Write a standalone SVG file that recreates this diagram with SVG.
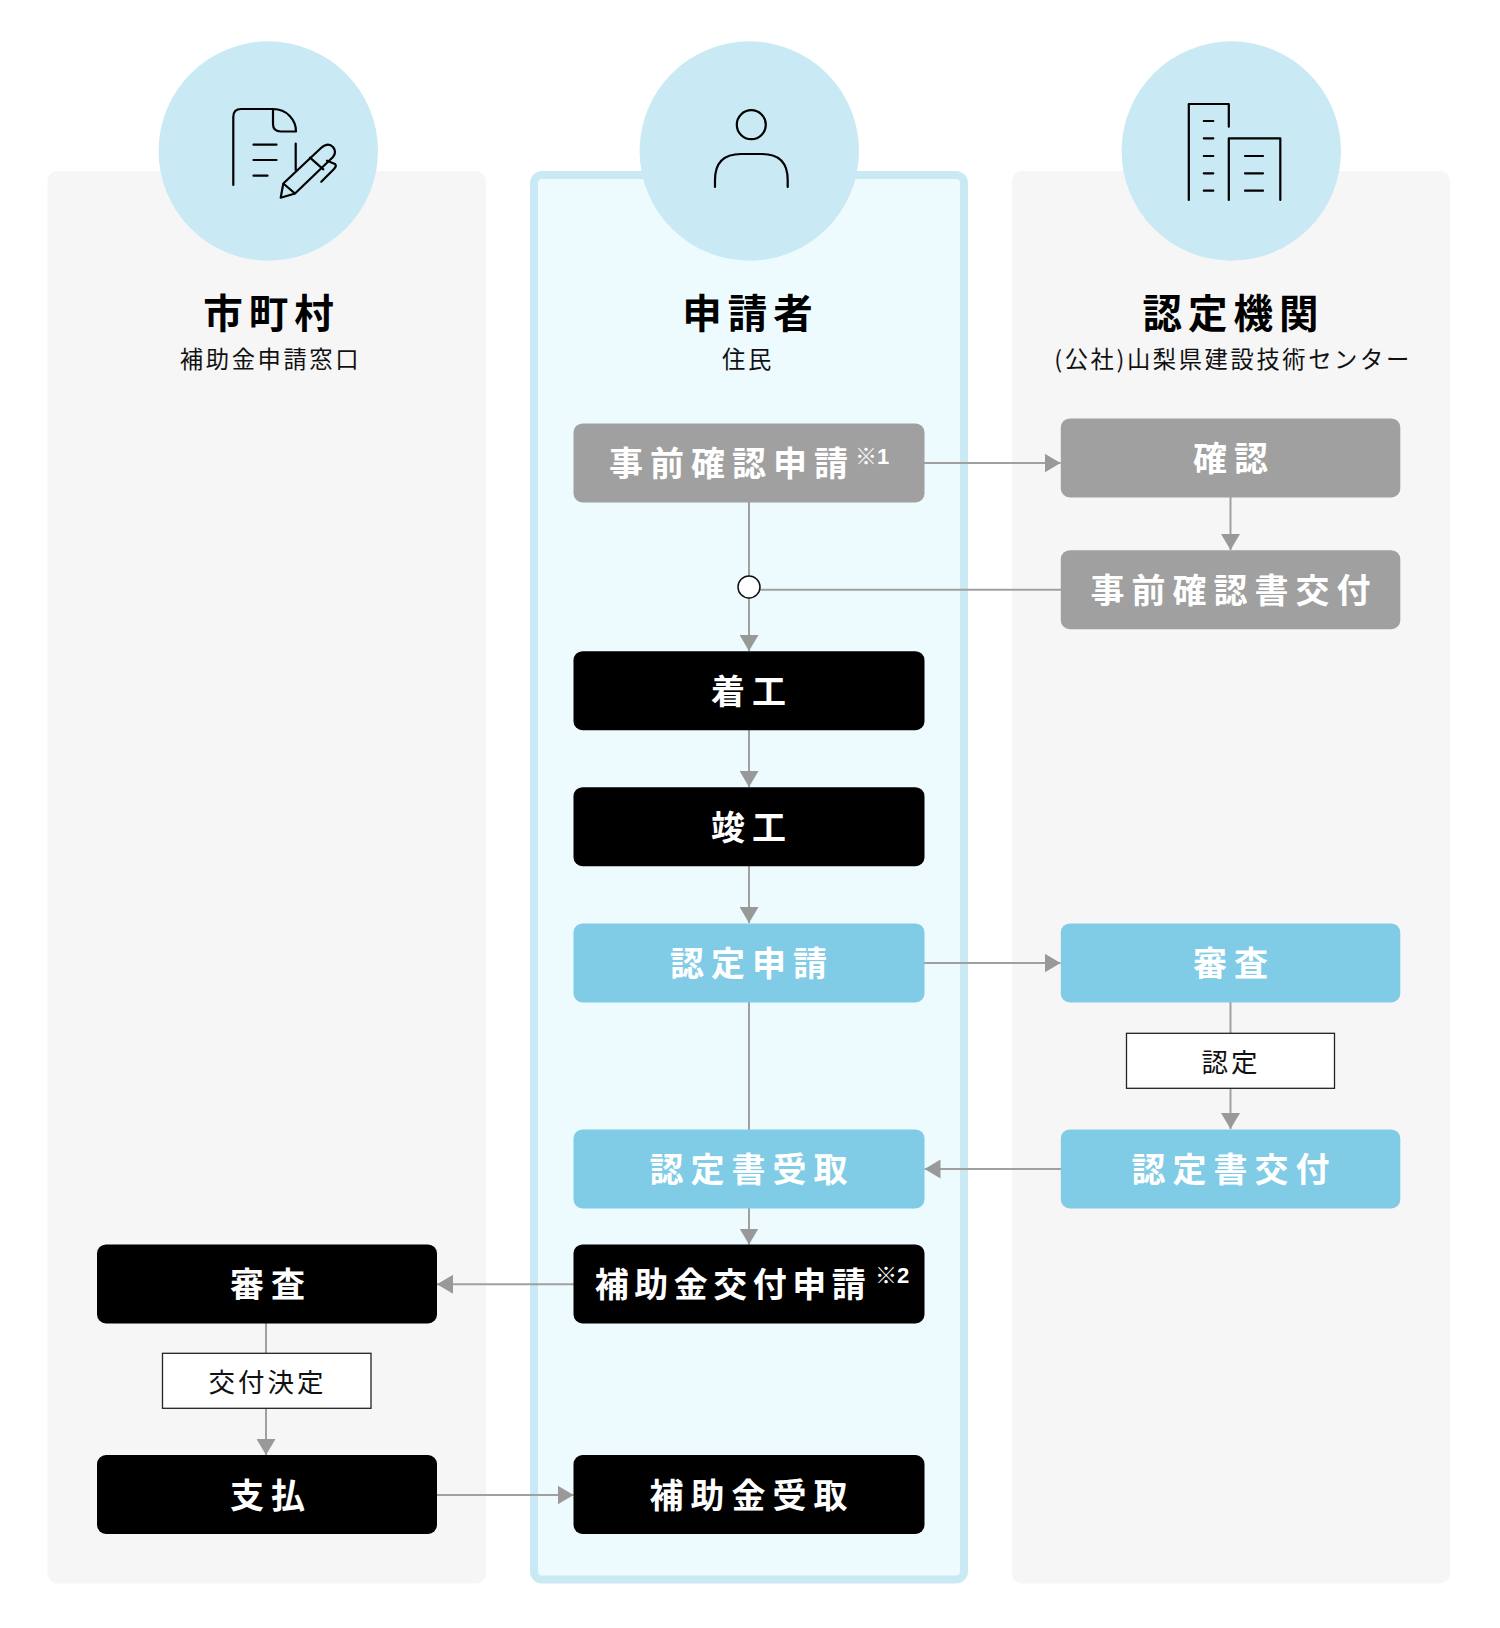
<svg xmlns="http://www.w3.org/2000/svg" width="1500" height="1628" viewBox="0 0 1500 1628">
<style>
text{font-family:"Noto Sans CJK JP","Noto Sans CJK SC",sans-serif}
.t{font-size:39.500px;font-weight:700;letter-spacing:6px;fill:#000;text-anchor:middle}
.s{font-size:23.300px;font-weight:400;letter-spacing:2.600px;fill:#111;text-anchor:middle}
.b{font-size:34px;font-weight:700;letter-spacing:7px;fill:#fff;text-anchor:middle}
.n{font-size:22px;font-weight:700;fill:#fff;font-family:"Liberation Sans","Noto Sans CJK JP",sans-serif}
.l{font-size:26.500px;font-weight:400;letter-spacing:3px;fill:#111;text-anchor:middle}
.gr{fill:#a0a0a0}.bl{fill:#80cbe5}.bk{fill:#000}
.c{fill:#c9eaf4}
.i{fill:none;stroke:#000;stroke-width:2.200;stroke-linecap:round;stroke-linejoin:round}
.ln{fill:none;stroke:#a0a0a0;stroke-width:2}
.ah{fill:#999}
.lb{fill:#fff;stroke:#222;stroke-width:1.300}
</style>
<defs>
<marker id="a" viewBox="0 0 16 19" markerWidth="16" markerHeight="19" markerUnits="userSpaceOnUse" refX="16" refY="9.500" orient="auto"><path class="ah" d="M0 0L16 9.500L0 19z"/></marker>
</defs>
<g id="lane-municipality">
<rect x="47.500" y="171" width="438.500" height="1412.500" rx="10" fill="#f6f6f6"/>
<circle class="c" cx="268.300" cy="151" r="109.700"/>
<path class="i" d="M233.300 185V117Q233.300 109 241 109H273C287 109 296 120 296 131.500H281Q273 131.500 273 124V109M253.500 144.700H276.500M253.500 160H276.500M253.500 175.700H267.500M295.700 143.500V170M280.700 197.700L283.300 183.500L321 148Q328 142 333 147Q337 152 333 157L295 193.500ZM283.300 183.500L295 193.500M310 157.700L323.300 169.300M327 160.700L335 164Q337 166 334 169L321.300 181.700"/>
<text class="t" x="271.500" y="328">市町村</text>
<text class="s" x="270.500" y="367.500">補助金申請窓口</text>
</g>
<g id="lane-applicant">
<rect x="534" y="175" width="430" height="1404.500" rx="8" fill="#edfbff" stroke="#c9eaf4" stroke-width="8"/>
<circle class="c" cx="749.300" cy="151" r="109.700"/>
<circle class="i" cx="751.300" cy="124.700" r="14.500"/>
<path class="i" d="M715 187V180Q715 154 741 154H762Q787.700 154 787.700 180V187"/>
<text class="t" x="750.500" y="328">申請者</text>
<text class="s" x="748" y="367.500">住民</text>
</g>
<g id="lane-agency">
<rect x="1012" y="171" width="438" height="1412.500" rx="10" fill="#f6f6f6"/>
<circle class="c" cx="1231.300" cy="151" r="109.700"/>
<path class="i" d="M1188.800 200V104H1228.800V126.700M1228.800 200V138.300H1280.300V200M1203.800 121H1213.300M1203.800 138.300H1213.300M1203.800 156H1213.300M1203.800 173.300H1213.300M1203.800 190.700H1213.300M1245 156H1263M1245 173.300H1263M1245 190.700H1263"/>
<text class="t" x="1233.500" y="328">認定機関</text>
<text class="s" x="1233" y="368">(公社)山梨県建設技術センター</text>
</g>
<g id="connectors">
<path class="ln" d="M924 463H1060.500" marker-end="url(#a)"/>
<path class="ln" d="M749 502V651" marker-end="url(#a)"/>
<path class="ln" d="M749 589.700H1061"/>
<path class="ln" d="M1230.500 497V550" marker-end="url(#a)"/>
<path class="ln" d="M749 730V787" marker-end="url(#a)"/>
<path class="ln" d="M749 866V923" marker-end="url(#a)"/>
<path class="ln" d="M924 963H1060.500" marker-end="url(#a)"/>
<path class="ln" d="M749 1002V1130"/>
<path class="ln" d="M1230.500 1002V1129" marker-end="url(#a)"/>
<path class="ln" d="M1061 1169H924.500" marker-end="url(#a)"/>
<path class="ln" d="M749 1208V1244.500" marker-end="url(#a)"/>
<path class="ln" d="M574 1284.300H437" marker-end="url(#a)"/>
<path class="ln" d="M266 1323V1455" marker-end="url(#a)"/>
<path class="ln" d="M437 1495H573.500" marker-end="url(#a)"/>
</g>
<g id="junction"><circle cx="749" cy="587" r="11" fill="#fff" stroke="#111" stroke-width="1.500"/></g>
<g id="n-pre-apply"><rect class="gr" x="573.500" y="423.400" width="351" height="79" rx="9"/><text class="b" x="732" y="476">事前確認申請</text><text class="n" x="855" y="464">※1</text></g>
<g id="n-confirm"><rect class="gr" x="1060.800" y="418.400" width="339.500" height="79" rx="9"/><text class="b" x="1234" y="471">確認</text></g>
<g id="n-pre-issue"><rect class="gr" x="1060.800" y="550.200" width="339.500" height="79" rx="9"/><text class="b" x="1234" y="603">事前確認書交付</text></g>
<g id="n-start"><rect class="bk" x="573.500" y="651.200" width="351" height="79" rx="9"/><text class="b" x="752" y="704">着工</text></g>
<g id="n-complete"><rect class="bk" x="573.500" y="787.200" width="351" height="79" rx="9"/><text class="b" x="752" y="840">竣工</text></g>
<g id="n-cert-apply"><rect class="bl" x="573.500" y="923.400" width="351" height="79" rx="9"/><text class="b" x="752" y="976">認定申請</text></g>
<g id="n-review"><rect class="bl" x="1060.800" y="923.400" width="339.500" height="79" rx="9"/><text class="b" x="1234" y="976">審査</text></g>
<g id="n-cert-label"><rect class="lb" x="1126.500" y="1033.300" width="208" height="55"/><text class="l" x="1231" y="1072">認定</text></g>
<g id="n-cert-receive"><rect class="bl" x="573.500" y="1129.400" width="351" height="79" rx="9"/><text class="b" x="752" y="1182">認定書受取</text></g>
<g id="n-cert-issue"><rect class="bl" x="1060.800" y="1129.400" width="339.500" height="79" rx="9"/><text class="b" x="1234" y="1182">認定書交付</text></g>
<g id="n-subsidy-apply"><rect class="bk" x="573.500" y="1244.400" width="351" height="79" rx="9"/><text class="b" style="letter-spacing:5.500px" x="733" y="1297">補助金交付申請</text><text class="n" x="875" y="1283">※2</text></g>
<g id="n-city-review"><rect class="bk" x="97" y="1244.400" width="340" height="79" rx="9"/><text class="b" x="271" y="1297">審査</text></g>
<g id="n-grant-label"><rect class="lb" x="162.500" y="1353.300" width="208.500" height="55"/><text class="l" x="267.500" y="1392">交付決定</text></g>
<g id="n-pay"><rect class="bk" x="97" y="1455" width="340" height="79" rx="9"/><text class="b" x="271" y="1508">支払</text></g>
<g id="n-subsidy-receive"><rect class="bk" x="573.500" y="1455" width="351" height="79" rx="9"/><text class="b" x="752" y="1508">補助金受取</text></g>
</svg>
